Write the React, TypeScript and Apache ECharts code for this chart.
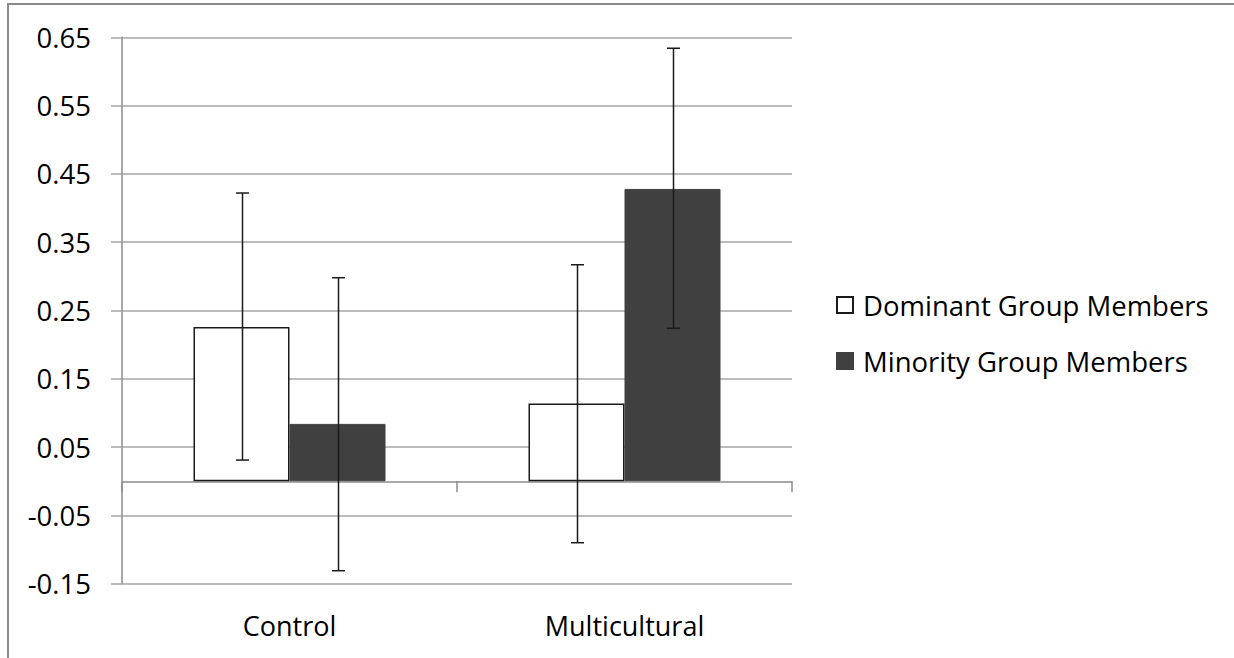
import React, { useEffect, useRef } from "react";
import * as echarts from "echarts";

const categories = ["Control", "Multicultural"];
const seriesNames = ["Dominant Group Members", "Minority Group Members"];
const dominantMeans = [0.226, 0.114];
const minorityMeans = [0.084, 0.428];
const dominantErrLow = [0.031, -0.09];
const dominantErrHigh = [0.422, 0.317];
const minorityErrLow = [-0.131, 0.224];
const minorityErrHigh = [0.298, 0.634];
const yMin = -0.15;
const yMax = 0.65;
const yStep = 0.1;

const BAR_W = 96;
const FONT = "'Open Sans', 'Noto Sans', sans-serif";

function errorSeries(low: number[], high: number[], offset: number) {
  return {
    type: "custom",
    z: 10,
    silent: true,
    data: categories.map((_, i) => [i, low[i], high[i]]),
    renderItem: (params: any, api: any) => {
      const i = api.value(0);
      const p1 = api.coord([i, api.value(1)]);
      const p2 = api.coord([i, api.value(2)]);
      const x = Math.round(p1[0] + offset) + 0.5;
      const style = { stroke: "#1a1a1a", lineWidth: 1.5 };
      const cap = 6.5;
      return {
        type: "group",
        children: [
          { type: "line", shape: { x1: x, y1: p1[1], x2: x, y2: p2[1] }, style },
          { type: "line", shape: { x1: x - cap, y1: p1[1], x2: x + cap, y2: p1[1] }, style },
          { type: "line", shape: { x1: x - cap, y1: p2[1], x2: x + cap, y2: p2[1] }, style },
        ],
      };
    },
  };
}

export default function App() {
  const ref = useRef<HTMLDivElement>(null);
  useEffect(() => {
    if (!ref.current) return;
    const chart = echarts.init(ref.current, null, { renderer: "svg" });
    chart.setOption({
      animation: false,
      backgroundColor: "#ffffff",
      textStyle: { fontFamily: FONT },
      graphic: [
        {
          type: "rect",
          shape: { x: 8, y: 4, width: 1400, height: 800 },
          style: { fill: "none", stroke: "#8a8a8a", lineWidth: 2 },
          silent: true,
        },
      ],
      grid: { left: 122, right: 442, top: 37.3, bottom: 74.3, containLabel: false },
      legend: {
        data: seriesNames,
        orient: "vertical",
        left: 836,
        top: 291,
        padding: 0,
        itemWidth: 16,
        itemHeight: 16,
        itemGap: 28,
        icon: "rect",
        textStyle: {
          fontFamily: FONT,
          fontSize: 27.5,
          color: "#000",
          lineHeight: 27,
          padding: [0, 0, 0, 5],
        },
        selectedMode: false,
      },
      xAxis: [
        {
          type: "category",
          data: categories,
          axisLine: { onZero: true, lineStyle: { color: "#8c8c8c", width: 1.5 } },
          axisTick: { show: true, length: 11, lineStyle: { color: "#8c8c8c", width: 1.5 } },
          axisLabel: { show: false },
        },
        {
          type: "category",
          data: categories,
          position: "bottom",
          axisLine: { show: false, onZero: false },
          axisTick: { show: false },
          axisLabel: { fontFamily: FONT, fontSize: 27, color: "#000", margin: 28, lineHeight: 27 },
        },
      ],
      yAxis: {
        type: "value",
        min: yMin,
        max: yMax,
        interval: yStep,
        axisLine: { show: true, lineStyle: { color: "#8c8c8c", width: 1.5 } },
        axisTick: { show: true, length: 11, lineStyle: { color: "#a6a6a6", width: 1.5 } },
        splitLine: { show: true, lineStyle: { color: "#a6a6a6", width: 1.5 } },
        axisLabel: {
          fontFamily: FONT,
          fontSize: 27.5,
          color: "#000",
          margin: 31,
          formatter: (v: number) => v.toFixed(2),
        },
      },
      series: [
        {
          name: seriesNames[0],
          type: "bar",
          data: dominantMeans,
          barWidth: BAR_W,
          barGap: "0%",
          itemStyle: { color: "#ffffff", borderColor: "#1a1a1a", borderWidth: 1.5 },
        },
        {
          name: seriesNames[1],
          type: "bar",
          data: minorityMeans,
          barWidth: BAR_W,
          barGap: "0%",
          itemStyle: { color: "#404040", borderColor: "#404040", borderWidth: 1 },
        },
        errorSeries(dominantErrLow, dominantErrHigh, -BAR_W / 2),
        errorSeries(minorityErrLow, minorityErrHigh, BAR_W / 2),
      ],
    });
    return () => chart.dispose();
  }, []);
  return (
    <div
      ref={ref}
      style={{ position: "absolute", left: 0, top: 0, width: 1234, height: 658 }}
    />
  );
}
